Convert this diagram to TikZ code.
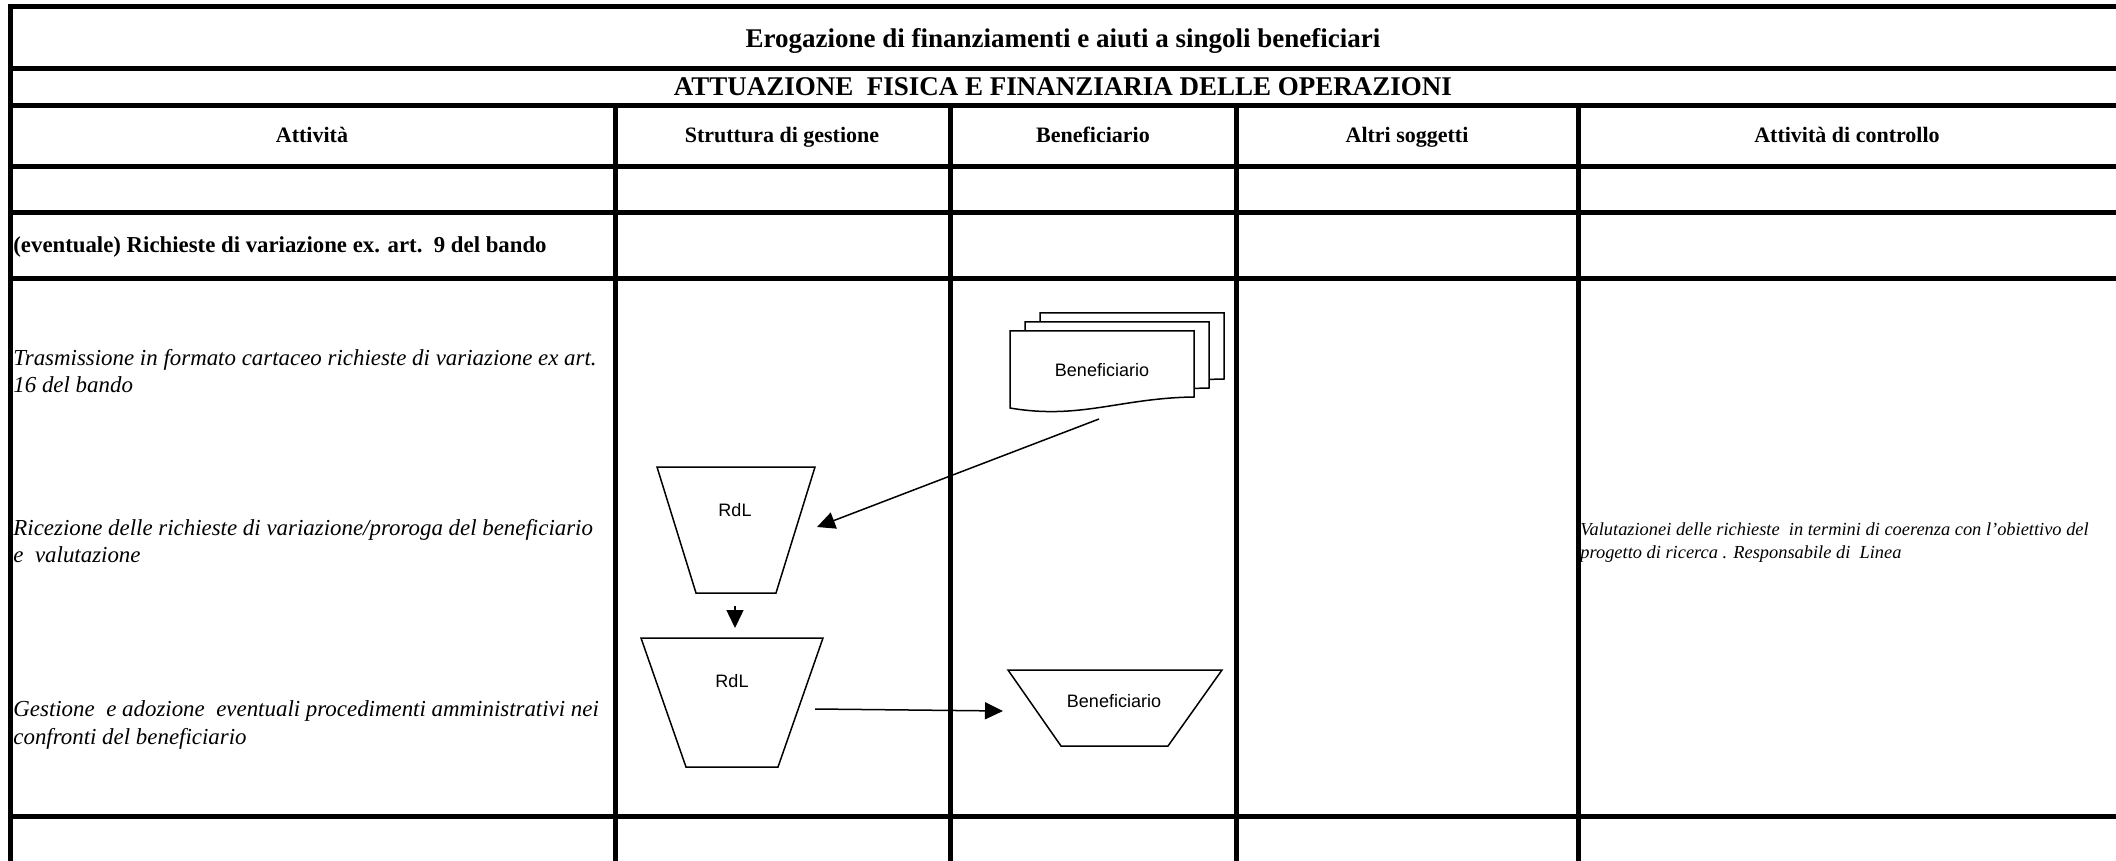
\documentclass[tikz,border=0pt]{standalone}
\usepackage{fontspec}
\setmainfont{Liberation Serif}
\newfontfamily\arialf{Liberation Sans}
\usetikzlibrary{arrows.meta}
\begin{document}
\begin{tikzpicture}[x=0.5pt,y=-0.5pt,
 grid/.style={line width=2.5pt, line cap=rect},
 ttl/.style={font=\fontsize{13.5}{15}\selectfont\bfseries, inner sep=0, anchor=base},
 hdr/.style={font=\fontsize{11}{13}\selectfont\bfseries, inner sep=0, anchor=base},
 act/.style={font=\fontsize{11.45}{13.8}\selectfont\itshape, align=left, anchor=west, inner sep=0},
 ctl/.style={font=\fontsize{9.2}{11.5}\selectfont\itshape, align=left, anchor=west, inner sep=0},
 shp/.style={draw, line width=0.75pt, fill=white, line join=miter},
 lbl/.style={font=\arialf\fontsize{9}{11}\selectfont, inner sep=0},
 flow/.style={line width=0.75pt, -{Triangle[length=9pt,width=8.5pt]}}]

\useasboundingbox (0,0) rectangle (2116,861);
\fill[white] (0,0) rectangle (2116,861);

% table grid
\foreach \y in {7,69,106,167,213,279,816} \draw[grid] (10,\y) -- (2116,\y);
\draw[grid] (10,7) -- (10,861);
\foreach \x in {615,950,1236,1578} \draw[grid] (\x,106) -- (\x,861);

% titles and headers
\node[ttl] (title) at (1063,48) {Erogazione di finanziamenti e aiuti a singoli beneficiari};
\node[ttl] (sub) at (1063,96) {ATTUAZIONE\ \ FISICA E FINANZIARIA DELLE OPERAZIONI};
\node[hdr] (h1) at (312,143) {Attività};
\node[hdr] (h2) at (782,143) {Struttura di gestione};
\node[hdr] (h3) at (1093,143) {Beneficiario};
\node[hdr] (h4) at (1407,143) {Altri soggetti};
\node[hdr] (h5) at (1847,143) {Attività di controllo};

\node[hdr, font=\fontsize{11.4}{13}\selectfont\bfseries, anchor=west] (ev) at (13,247) {(eventuale) Richieste di variazione ex. art.\ \ 9 del bando};

\node[act] (t1) at (13,371) {Trasmissione in formato cartaceo richieste di variazione ex art.\\16 del bando};
\node[act] (t2) at (13,541) {Ricezione delle richieste di variazione/proroga del beneficiario\\e\ \ valutazione};
\node[act] (t3) at (13,725) {Gestione\ \ e adozione\ \ eventuali procedimenti amministrativi nei\\confronti del beneficiario};
\node[ctl] (c1) at (1580,543) {Valutazionei delle richieste\ \ in termini di coerenza con l’obiettivo del\\progetto di ricerca . Responsabile di\ \ Linea};

% multi-document
\foreach \s in {2,1} {
  \draw[shp, shift={(15*\s,-9*\s)}] (1010,408) -- (1010,331) -- (1194,331) -- (1194,397)
     .. controls (1120,398) and (1080,420) .. (1010,408) -- cycle;
}
\draw[shp] (1010,408) -- (1010,331) -- (1194,331) -- (1194,397)
     .. controls (1120,398) and (1080,420) .. (1010,408) -- cycle;
\node[lbl] (doc) at (1102,370) {Beneficiario};

% trapezoids
\draw[shp] (657,467) -- (815,467) -- (776,593) -- (696,593) -- cycle;
\node[lbl] (rdl1) at (735,510) {RdL};
\draw[shp] (641,638) -- (823,638) -- (778,767) -- (686,767) -- cycle;
\node[lbl] (rdl2) at (732,681) {RdL};
\draw[shp] (1008,670) -- (1222,670) -- (1168,746) -- (1061,746) -- cycle;
\node[lbl] (ben) at (1114,701) {Beneficiario};

% connectors
\coordinate (a1s) at (1099,419);
\coordinate (a1e) at (817,527);
\coordinate (a2s) at (735,606);
\coordinate (a2e) at (735,628);
\coordinate (a3s) at (815,709);
\coordinate (a3e) at (1003,711);
\draw[flow] (a1s) -- (a1e);
\draw[flow] (a2s) -- (a2e);
\draw[flow] (a3s) -- (a3e);
\end{tikzpicture}
\end{document}
